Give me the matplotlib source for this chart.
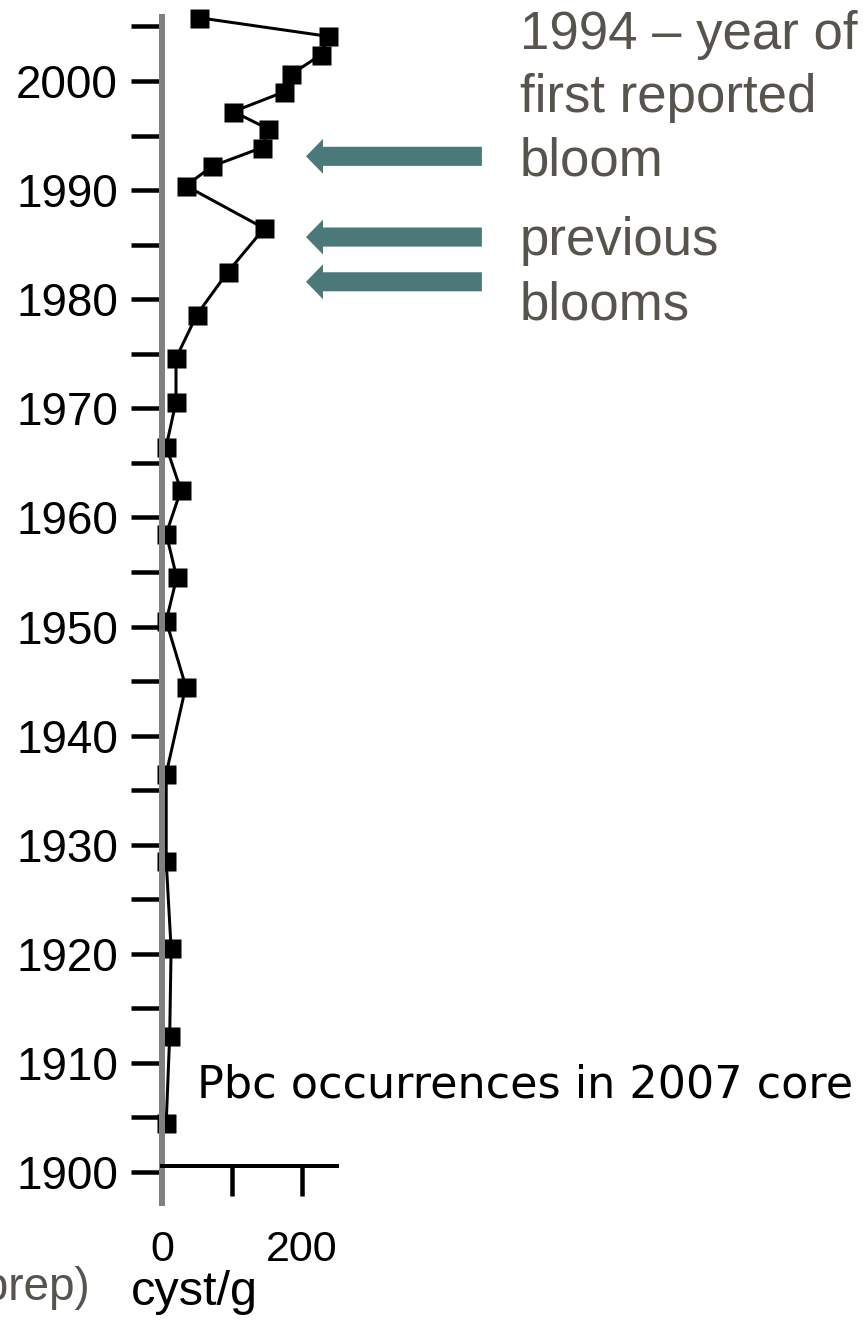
import matplotlib
matplotlib.use('Agg')
from matplotlib import pyplot as plt
from matplotlib.patches import FancyArrow
from matplotlib.ticker import MultipleLocator

# Pbc cyst counts down the 2007 sediment core
years = [2005.8, 2004.1, 2002.4, 2000.6, 1999.0, 1997.2, 1995.6, 1993.9, 1992.2,
         1990.4, 1986.5, 1982.5, 1978.6, 1974.6, 1970.6, 1966.5, 1962.5, 1958.5,
         1954.5, 1950.5, 1944.5, 1936.5, 1928.5, 1920.5, 1912.5, 1904.5]
cysts = [53, 237, 227, 184, 174, 102, 152, 143, 72, 34, 146, 94, 50, 20, 20,
         6, 27, 6, 21, 6, 34, 6, 6, 13, 11, 6]

x_ticks = [0, 100, 200]
x_tick_labels = ['0', '', '200']
arrow_years = [1993.1, 1985.7, 1981.6]  # first reported bloom, previous blooms

W, H = 867, 1338
PT = 72 / 100  # points per pixel
TEAL = '#4b7979'
GREY_TXT = '#57534d'

plt.rcParams['font.family'] = ['Liberation Sans', 'DejaVu Sans']


def fx(x):
    return x / W


def fy(y):
    return 1 - y / H


fig = plt.figure(figsize=(W / 100, H / 100), dpi=100)
ax = fig.add_axes([fx(162), fy(1203), fx(337) - fx(162), fy(17) - fy(1203)])

ax.plot(cysts, years, color='black', lw=3 * PT, marker='s', ms=19 * PT,
        mec='none', clip_on=False)

ax.set_xlim(0, 250)
ax.set_ylim(1897.16, 2005.87)

for s in ['top', 'right']:
    ax.spines[s].set_visible(False)
ax.spines['left'].set_color('#808080')
ax.spines['left'].set_linewidth(6 * PT)
ax.spines['bottom'].set_position(('data', 1900.55))
ax.spines['bottom'].set_bounds(0, 250)
ax.spines['bottom'].set_linewidth(4 * PT)

ax.yaxis.set_major_locator(MultipleLocator(10))
ax.yaxis.set_minor_locator(MultipleLocator(5))
ax.tick_params(axis='y', which='both', direction='out', length=31 * PT,
               width=4.5 * PT, color='black', labelsize=33, pad=13 * PT)
ax.set_xticks(x_ticks)
ax.set_xticklabels(x_tick_labels)
ax.tick_params(axis='x', direction='out', length=30 * PT, width=4.5 * PT,
               labelsize=31, pad=34 * PT)

# arrows pointing at the bloom years
for yr in arrow_years:
    ax.add_patch(FancyArrow(457, yr, -251.3, 0, width=1.75, head_width=3.2,
                            head_length=24.3, length_includes_head=True,
                            color=TEAL, lw=0, clip_on=False))

lines = [("1994 \u2013 year of", 49), ("first reported", 112), ("bloom", 176),
         ("previous", 255), ("blooms", 320)]
for txt, yb in lines:
    fig.text(fx(520), fy(yb), txt, fontsize=38, color=GREY_TXT, va='baseline')

fig.text(fx(197), fy(1097), "Pbc occurrences in 2007 core", fontsize=32,
         family='DejaVu Sans', va='baseline')
fig.text(fx(194), fy(1305), "cyst/g", fontsize=35, ha='center', va='baseline')
fig.text(fx(90), fy(1300), "(in prep)", fontsize=33, color=GREY_TXT,
         ha='right', va='baseline')

fig.savefig('out.png', dpi=100)
